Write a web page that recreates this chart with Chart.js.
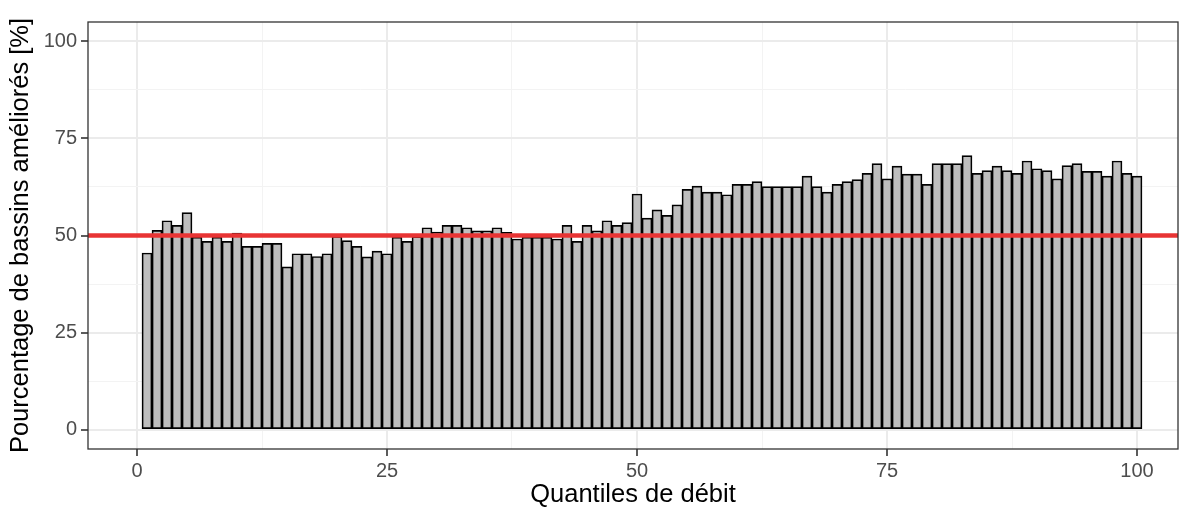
<!DOCTYPE html>
<html>
<head>
<meta charset="utf-8">
<script src="https://cdn.jsdelivr.net/npm/chart.js@4/dist/chart.umd.min.js"></script>
<style>
  body { margin: 0; background: #fff; }
  canvas { display: block; }
</style>
</head>
<body>
<canvas id="chart" width="1179" height="508"></canvas>
<script>
  // Quantile index (1..100) and share of improved basins per quantile.
  const quantiles = [
    1, 2, 3, 4, 5, 6, 7, 8, 9, 10, 11, 12, 13, 14, 15, 16, 17, 18, 19, 20,
    21, 22, 23, 24, 25, 26, 27, 28, 29, 30, 31, 32, 33, 34, 35, 36, 37, 38, 39, 40,
    41, 42, 43, 44, 45, 46, 47, 48, 49, 50, 51, 52, 53, 54, 55, 56, 57, 58, 59, 60,
    61, 62, 63, 64, 65, 66, 67, 68, 69, 70, 71, 72, 73, 74, 75, 76, 77, 78, 79, 80,
    81, 82, 83, 84, 85, 86, 87, 88, 89, 90, 91, 92, 93, 94, 95, 96, 97, 98, 99, 100
  ];
  const pctImproved = [
    45.5, 51.3, 53.8, 52.6, 55.9, 49.6, 48.5, 49.6, 48.5, 50.6,
    47.2, 47.2, 48.0, 48.0, 41.9, 45.3, 45.3, 44.6, 45.3, 49.8,
    48.7, 47.2, 44.5, 46.0, 45.3, 49.6, 48.5, 49.7, 52.0, 50.9,
    52.6, 52.6, 52.0, 51.2, 51.2, 52.0, 50.8, 49.1, 49.6, 49.6,
    49.6, 49.1, 52.6, 48.5, 52.6, 51.2, 53.8, 52.6, 53.3, 60.7,
    54.5, 56.6, 55.2, 57.9, 61.9, 62.7, 61.2, 61.2, 60.5, 63.2,
    63.2, 63.9, 62.6, 62.6, 62.6, 62.6, 65.3, 62.6, 61.2, 63.2,
    63.9, 64.4, 66.0, 68.5, 64.6, 67.9, 65.8, 65.8, 63.2, 68.5,
    68.5, 68.5, 70.6, 66.0, 66.7, 67.9, 66.7, 66.0, 69.2, 67.2,
    66.7, 64.6, 68.0, 68.5, 66.5, 66.5, 65.3, 69.2, 66.0, 65.3
  ];
  const threshold = 50;

  // Axis limits and tick positions (major + minor grid).
  const xLimits = [-4.9, 104.1];
  const yLimits = [-5, 105];
  const xTicks = [0, 12.5, 25, 37.5, 50, 62.5, 75, 87.5, 100];
  const yTicks = [0, 12.5, 25, 37.5, 50, 62.5, 75, 87.5, 100];
  const majorStep = 25;

  const FONT = "'Liberation Sans', Arial, Helvetica, sans-serif";

  const isMajor = v => Math.abs(v % majorStep) < 1e-9;
  const tickIsMajor = ctx => !ctx.tick || isMajor(ctx.tick.value);

  function gridOptions() {
    return {
      offset: false,
      color: ctx => tickIsMajor(ctx) ? '#ebebeb' : '#f3f3f3',
      lineWidth: ctx => tickIsMajor(ctx) ? 2 : 1,
      tickColor: ctx => tickIsMajor(ctx) ? '#333333' : 'rgba(0,0,0,0)',
      tickWidth: 1.6,
      tickLength: 7,
    };
  }

  // Panel border on all four sides, like theme_bw.
  const panelBorder = {
    id: 'panelBorder',
    afterDraw(chart) {
      const a = chart.chartArea;
      const c = chart.ctx;
      c.save();
      c.strokeStyle = '#333333';
      c.lineWidth = 1.3;
      c.strokeRect(a.left, a.top, a.right - a.left, a.bottom - a.top);
      c.restore();
    }
  };

  const barData = quantiles.map((q, i) => ({ x: q, y: pctImproved[i] }));
  const lineData = [
    { x: xLimits[0], y: threshold },
    { x: xLimits[1], y: threshold }
  ];

  new Chart(document.getElementById('chart').getContext('2d'), {
    type: 'bar',
    data: {
      datasets: [
        {
          type: 'line',
          data: lineData,
          borderColor: '#e83434',
          borderWidth: 4.5,
          pointRadius: 0,
          fill: false,
          order: 0,
        },
        {
          type: 'bar',
          data: barData,
          backgroundColor: '#bebebe',
          borderColor: '#000000',
          borderWidth: 1.7,
          borderSkipped: false,
          barPercentage: 1,
          categoryPercentage: 1,
          order: 1,
        },
      ],
    },
    options: {
      responsive: false,
      animation: false,
      layout: { padding: { top: 22, right: 1, left: 0, bottom: 0 } },
      plugins: {
        legend: { display: false },
        tooltip: { enabled: false },
      },
      scales: {
        x: {
          type: 'linear',
          offset: false,
          min: xLimits[0],
          max: xLimits[1],
          afterBuildTicks: scale => { scale.ticks = xTicks.map(v => ({ value: v })); },
          afterFit: scale => { scale.height = 59; },
          grid: gridOptions(),
          border: { display: false },
          ticks: {
            autoSkip: false,
            maxRotation: 0,
            padding: 3,
            color: '#4d4d4d',
            font: { family: FONT, size: 20 },
            callback: v => isMajor(v) ? String(v) : '',
          },
          title: {
            display: true,
            text: 'Quantiles de débit',
            color: '#000000',
            font: { family: FONT, size: 25.5, lineHeight: 1 },
            padding: { top: 0, bottom: 0 },
          },
        },
        y: {
          type: 'linear',
          min: yLimits[0],
          max: yLimits[1],
          afterBuildTicks: scale => { scale.ticks = yTicks.map(v => ({ value: v })); },
          afterFit: scale => { scale.width = 88; },
          grid: gridOptions(),
          border: { display: false },
          ticks: {
            autoSkip: false,
            padding: 4,
            color: '#4d4d4d',
            font: { family: FONT, size: 20 },
            callback: v => isMajor(v) ? String(v) : '',
          },
          title: {
            display: true,
            text: 'Pourcentage de bassins améliorés [%]',
            color: '#000000',
            font: { family: FONT, size: 25.5, lineHeight: 1 },
            padding: { top: 8.5, bottom: 0 },
          },
        },
      },
    },
    plugins: [panelBorder],
  });
</script>
</body>
</html>
